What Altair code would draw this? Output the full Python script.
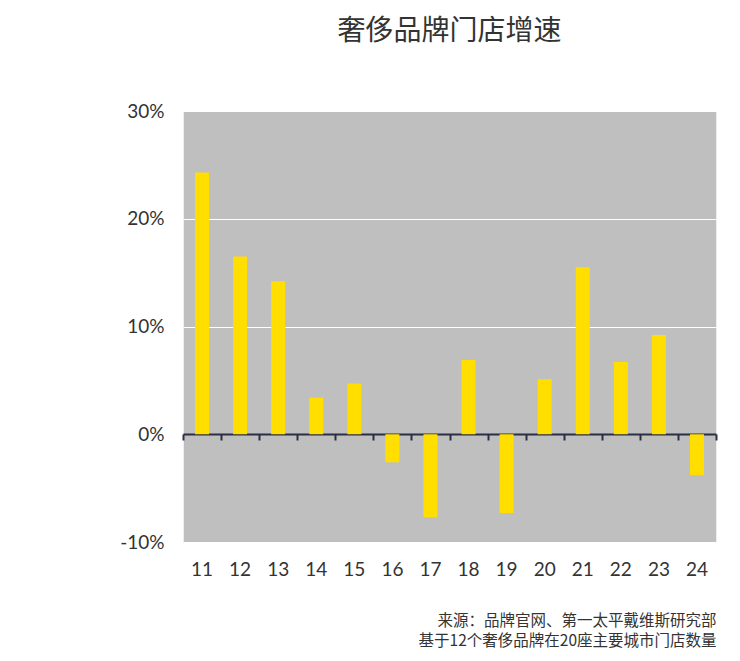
import altair as alt
import pandas as pd

years = ["11", "12", "13", "14", "15", "16", "17", "18", "19", "20", "21", "22", "23", "24"]
growth = [0.243, 0.165, 0.142, 0.034, 0.047, -0.026, -0.077, 0.069, -0.073, 0.051, 0.155, 0.067, 0.092, -0.038]

title_text = "奢侈品牌门店增速"
note_lines = ["来源：品牌官网、第一太平戴维斯研究部", "基于12个奢侈品牌在20座主要城市门店数量"]

df = pd.DataFrame({"year": years, "growth": growth})

W, H = 533, 431
xscale = alt.Scale(domain=years, paddingInner=0, paddingOuter=0)
yscale = alt.Scale(domain=[-0.1, 0.3], nice=False)
yaxis = alt.Axis(values=[-0.1, 0, 0.1, 0.2, 0.3], format=".0%", domain=False,
                 labelExpr="replace(datum.label, '\u2212', '-')",
                 ticks=False, grid=True, gridColor="#FFFFFF", gridWidth=1,
                 labelFont="Lato", labelFontSize=19, labelColor="#333333",
                 labelPadding=19, title=None)

bars = alt.Chart(df).mark_bar(size=14, color="#FFDE00").encode(
    x=alt.X("year:N", scale=xscale, sort=years,
            axis=alt.Axis(orient="bottom", domain=False, ticks=False, labelAngle=0,
                          labelFont="Lato", labelFontSize=19, labelColor="#333333",
                          labelPadding=18, title=note_lines, titleAnchor="end",
                          titleAlign="right", titleFont="Noto Sans CJK SC",
                          titleFontSize=15.5, titleFontWeight="normal",
                          titleColor="#333333", titlePadding=34, titleLineHeight=20)),
    y=alt.Y("growth:Q", scale=yscale, axis=yaxis),
)

zero_axis = alt.Chart(df).mark_point(opacity=0).encode(
    x=alt.X("year:N", scale=xscale, sort=years,
            axis=alt.Axis(orient="bottom", offset=-108, labels=False, domain=True,
                          domainColor="#2B2E45", domainWidth=2, ticks=True,
                          tickColor="#2B2E45", tickWidth=2, tickSize=6,
                          tickBand="extent", title=None, grid=False)),
    y=alt.Y("growth:Q", scale=yscale, axis=yaxis),
)

chart = alt.layer(bars, zero_axis).resolve_axis(x="independent").properties(
    width=W, height=H,
    title=alt.TitleParams(title_text, font="Noto Sans CJK SC", fontSize=28,
                          fontWeight="normal", color="#333333", anchor="middle",
                          offset=56),
    padding={"left": 111, "top": 10, "right": 8, "bottom": 5},
).configure_view(fill="#BFBFBF", stroke="#EEEEEE")

chart.save("out.html", embed_options={"renderer": "svg", "actions": False})
